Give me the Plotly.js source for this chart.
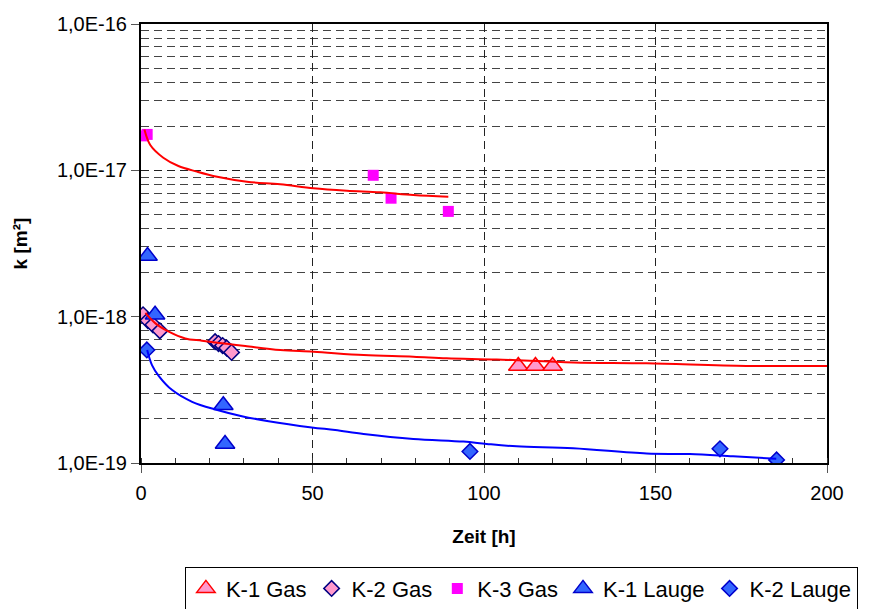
<!DOCTYPE html>
<html>
<head>
<meta charset="utf-8">
<script src="https://cdn.plot.ly/plotly-3.0.1.min.js"></script>
<style>html,body{margin:0;padding:0;background:#fff;}#chart{width:879px;height:609px;}</style>
</head>
<body>
<div id="chart"></div>
<script>
// ---- Measured points ----
var k1Gas_t = [110, 115, 120];
var k1Gas_k = [4.6e-19, 4.6e-19, 4.6e-19];

var k2Gas_t = [0.6, 2.0, 3.5, 5.5, 21.6, 22.6, 23.8, 25.0, 26.4];
var k2Gas_k = [1.03e-18, 9.4e-19, 8.8e-19, 8.0e-19, 6.75e-19, 6.55e-19, 6.35e-19, 6.1e-19, 5.7e-19];

var k3Gas_t = [0.6, 1.8, 67.7, 72.9, 89.6];
var k3Gas_k = [1.72e-17, 1.76e-17, 9.25e-18, 6.45e-18, 5.24e-18];

var k1Lauge_t = [1.9, 4.1, 24.0, 24.5];
var k1Lauge_k = [2.6e-18, 1.03e-18, 2.48e-19, 1.35e-19];

var k2Lauge_t = [1.7, 95.9, 168.8, 185.3];
var k2Lauge_k = [5.92e-19, 1.20e-19, 1.25e-19, 1.05e-19];

// ---- Fit curves ----
var fitK3_t = [1.0, 2.7, 6.5, 10.9, 16.3, 22.2, 30.9, 40.6, 50.3, 60.0, 69.7, 79.4, 89.6];
var fitK3_k = [1.9e-17, 1.49e-17, 1.22e-17, 1.07e-17, 9.8e-18, 9.04e-18, 8.36e-18, 8.02e-18, 7.53e-18, 7.25e-18, 7.07e-18, 6.78e-18, 6.60e-18];

var fitGas_t = [1.3, 4.2, 8.1, 12.9, 17.8, 25.5, 30.4, 40.6, 50.3, 64.9, 79.4, 89.1, 103.7, 126, 147.4, 176.5, 200];
var fitGas_k = [1.06e-18, 9.0e-19, 7.9e-19, 7.1e-19, 6.85e-19, 6.5e-19, 6.3e-19, 5.91e-19, 5.76e-19, 5.47e-19, 5.33e-19, 5.19e-19, 5.1e-19, 4.87e-19, 4.8e-19, 4.61e-19, 4.61e-19];

var fitLauge_t = [1.8, 3.2, 5.2, 9.1, 14.9, 21.7, 29.4, 37.2, 49.8, 56.6, 64.9, 79.4, 94.0, 100.8, 109.5, 126, 147.4, 160, 172.6, 185.2];
var fitLauge_k = [5.92e-19, 4.67e-19, 3.93e-19, 3.15e-19, 2.62e-19, 2.32e-19, 2.09e-19, 1.93e-19, 1.75e-19, 1.68e-19, 1.58e-19, 1.46e-19, 1.40e-19, 1.35e-19, 1.30e-19, 1.26e-19, 1.16e-19, 1.15e-19, 1.11e-19, 1.07e-19];

// ---- Axis labels ----
var yTickVals = [1e-19, 1e-18, 1e-17, 1e-16];
var yTickText = ['1,0E-19', '1,0E-18', '1,0E-17', '1,0E-16'];
var seriesNames = ['K-1 Gas', 'K-2 Gas', 'K-3 Gas', 'K-1 Lauge', 'K-2 Lauge'];

var minorVals = [];
for (var e = -19; e < -16; e++) {
  for (var m = 2; m <= 9; m++) minorVals.push(m * Math.pow(10, e));
}

var FONT = 'Arial, "Liberation Sans", sans-serif';

var traces = [
  {x: k1Gas_t, y: k1Gas_k, name: seriesNames[0], mode: 'markers', type: 'scatter',
   marker: {symbol: 'triangle-up', size: 17, color: '#ff99cc', line: {color: '#ff0000', width: 1.5}}},
  {x: k2Gas_t, y: k2Gas_k, name: seriesNames[1], mode: 'markers', type: 'scatter',
   marker: {symbol: 'diamond', size: 12, color: '#ff99cc', line: {color: '#000080', width: 1.5}}},
  {x: k3Gas_t, y: k3Gas_k, name: seriesNames[2], mode: 'markers', type: 'scatter',
   marker: {symbol: 'square', size: 11, color: '#ff00ff', line: {width: 0}}},
  {x: k1Lauge_t, y: k1Lauge_k, name: seriesNames[3], mode: 'markers', type: 'scatter',
   marker: {symbol: 'triangle-up', size: 17, color: '#3366ff', line: {color: '#0000cc', width: 1.5}}},
  {x: k2Lauge_t, y: k2Lauge_k, name: seriesNames[4], mode: 'markers', type: 'scatter',
   marker: {symbol: 'diamond', size: 12, color: '#3366ff', line: {color: '#0000cc', width: 1.5}}},
  {x: fitK3_t, y: fitK3_k, mode: 'lines', type: 'scatter', showlegend: false, hoverinfo: 'skip',
   line: {color: '#ff0000', width: 2, shape: 'spline'}},
  {x: fitGas_t, y: fitGas_k, mode: 'lines', type: 'scatter', showlegend: false, hoverinfo: 'skip',
   line: {color: '#ff0000', width: 2, shape: 'spline'}},
  {x: fitLauge_t, y: fitLauge_k, mode: 'lines', type: 'scatter', showlegend: false, hoverinfo: 'skip',
   line: {color: '#0000ff', width: 2, shape: 'spline'}}
];

var layout = {
  width: 879, height: 609,
  margin: {l: 141, r: 52, t: 24, b: 146, autoexpand: false},
  paper_bgcolor: '#ffffff', plot_bgcolor: '#ffffff',
  font: {family: FONT, color: '#000', size: 20},
  showlegend: true,
  legend: {
    orientation: 'h', x: 0.064, xanchor: 'left', y: -0.236, yanchor: 'top',
    bordercolor: '#000', borderwidth: 1, bgcolor: '#fff',
    font: {family: FONT, size: 22, color: '#000'},
    itemclick: false
  },
  xaxis: {
    range: [0, 200], dtick: 50, tick0: 0,
    showline: true, linecolor: '#000', linewidth: 2, mirror: true,
    ticks: 'outside', ticklen: 8, tickcolor: '#555', tickwidth: 1,
    ticklabelstandoff: 3,
    showgrid: true, gridcolor: '#222', griddash: '8px,5px', gridwidth: 1,
    zeroline: false,
    tickfont: {family: FONT, size: 20, color: '#000'},
    minor: {dtick: 10, tick0: 0, ticks: 'inside', ticklen: 5, tickcolor: '#333', showgrid: false},
    title: {text: '<b>Zeit [h]</b>', font: {family: FONT, size: 19, color: '#000'}, standoff: 27}
  },
  yaxis: {
    type: 'log', range: [-19, -16],
    tickmode: 'array', tickvals: yTickVals, ticktext: yTickText,
    showline: true, linecolor: '#000', linewidth: 2, mirror: true,
    ticks: 'outside', ticklen: 8, tickcolor: '#555', tickwidth: 1,
    showgrid: true, gridcolor: '#222', griddash: '8px,5px', gridwidth: 1,
    zeroline: false,
    tickfont: {family: FONT, size: 20, color: '#000'},
    minor: {tickmode: 'array', tickvals: minorVals, ticks: '', showgrid: true,
            gridcolor: '#444', griddash: '8px,5px', gridwidth: 1},
    title: {text: '<b>k [m²]</b>', font: {family: FONT, size: 19, color: '#000'}, standoff: 24}
  }
};

Plotly.newPlot('chart', traces, layout, {staticPlot: true, displayModeBar: false});
</script>
</body>
</html>
